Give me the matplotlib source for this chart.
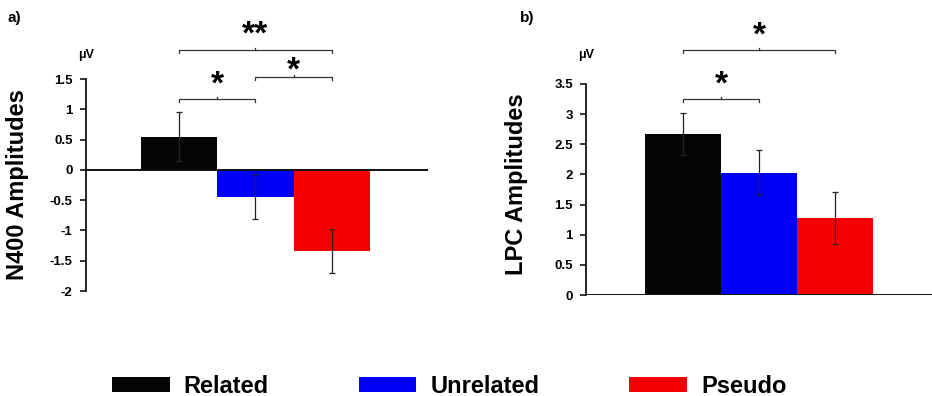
import matplotlib
matplotlib.use("Agg")
import matplotlib.pyplot as plt
from matplotlib.patches import Patch

conditions = ["Related", "Unrelated", "Pseudo"]
colors = ["#050505", "#0000f5", "#f50000"]

n400_mean = [0.55, -0.44, -1.34]
n400_err = [0.41, 0.37, 0.36]
lpc_mean = [2.67, 2.03, 1.28]
lpc_err = [0.35, 0.37, 0.43]

# (left bar, right bar, bracket height, star height, label)
n400_sig = [(0, 2, 1.98, 2.31, "**"), (0, 1, 1.17, 1.49, "*"), (1, 2, 1.535, 1.72, "*")]
lpc_sig = [(0, 2, 4.06, 4.39, "*"), (0, 1, 3.25, 3.57, "*")]

n400_ticks = [1.5, 1, 0.5, 0, -0.5, -1, -1.5, -2]
lpc_ticks = [3.5, 3, 2.5, 2, 1.5, 1, 0.5, 0]

plt.rcParams["font.family"] = ["Liberation Sans", "DejaVu Sans"]
plt.rcParams["font.weight"] = "bold"

fig = plt.figure(figsize=(9.32, 3.96), dpi=100)
ax_a = fig.add_axes([0.0922, 0.265, 0.367, 0.5354])
ax_b = fig.add_axes([0.6288, 0.255, 0.3712, 0.533])


def draw_bracket(ax, x0, x1, y, ystar, label):
    d = 0.05
    ax.plot([x0, x0, x1, x1], [y - d, y, y, y - d], color="#333333", lw=0.9,
            clip_on=False)
    xm = (x0 + x1) / 2
    ax.plot([xm, xm], [y, y + 0.035], color="#333333", lw=0.9, clip_on=False)
    ax.annotate(label, (xm, ystar), xytext=(0, -4), textcoords="offset points",
                ha="center", va="center", fontsize=24, fontweight="bold",
                annotation_clip=False)


def panel(ax, means, errs, sig, ticks, ylabel, xlim, label_pos):
    xs = list(range(len(means)))
    ax.bar(xs, means, width=1.0, color=colors, edgecolor="none", zorder=2)
    ax.errorbar(xs, means, yerr=errs, fmt="none", ecolor="#222222",
                elinewidth=0.9, capsize=2, capthick=0.9, zorder=3)
    ax.axhline(0, color="#111111", lw=1.4, zorder=4)
    ax.set_xlim(*xlim)
    ax.set_ylim(min(ticks), max(ticks))
    ax.set_yticks(ticks)
    ax.set_yticklabels([f"{t:g}" for t in ticks], fontsize=9.5, fontweight="bold")
    ax.set_xticks([])
    for side in ["top", "right", "bottom"]:
        ax.spines[side].set_visible(False)
    ax.spines["left"].set_linewidth(1.2)
    ax.tick_params(axis="y", length=4.5, width=1.1, pad=5)
    ax.set_ylabel(ylabel, fontsize=17, fontweight="bold")
    ax.yaxis.set_label_coords(*label_pos)
    for x0, x1, y, ystar, label in sig:
        draw_bracket(ax, x0, x1, y, ystar, label)
    return ax


panel(ax_a, n400_mean, n400_err, n400_sig, n400_ticks, "N400 Amplitudes",
      (-1.22, 3.26), (-0.167, 0.5))
panel(ax_b, lpc_mean, lpc_err, lpc_sig, lpc_ticks, "LPC Amplitudes",
      (-1.28, 3.28), (-0.168, 0.526))

fig.text(0.008, 0.955, "a)", fontsize=11, fontweight="bold", va="center")
fig.text(0.558, 0.955, "b)", fontsize=11, fontweight="bold", va="center")
fig.text(0.092, 0.861, "\u03bcV", ha="center", va="center", fontsize=9, fontweight="bold")
fig.text(0.629, 0.861, "\u03bcV", ha="center", va="center", fontsize=9, fontweight="bold")

handles = [Patch(facecolor=c, edgecolor="none") for c in colors]
fig.legend(handles, conditions, loc="center", bbox_to_anchor=(0.482, 0.025),
           ncol=3, frameon=False, handlelength=2.45,
           handleheight=0.6, handletextpad=0.6, columnspacing=3.8,
           prop={"weight": "bold", "size": 17})

fig.savefig("out.png", dpi=100)
